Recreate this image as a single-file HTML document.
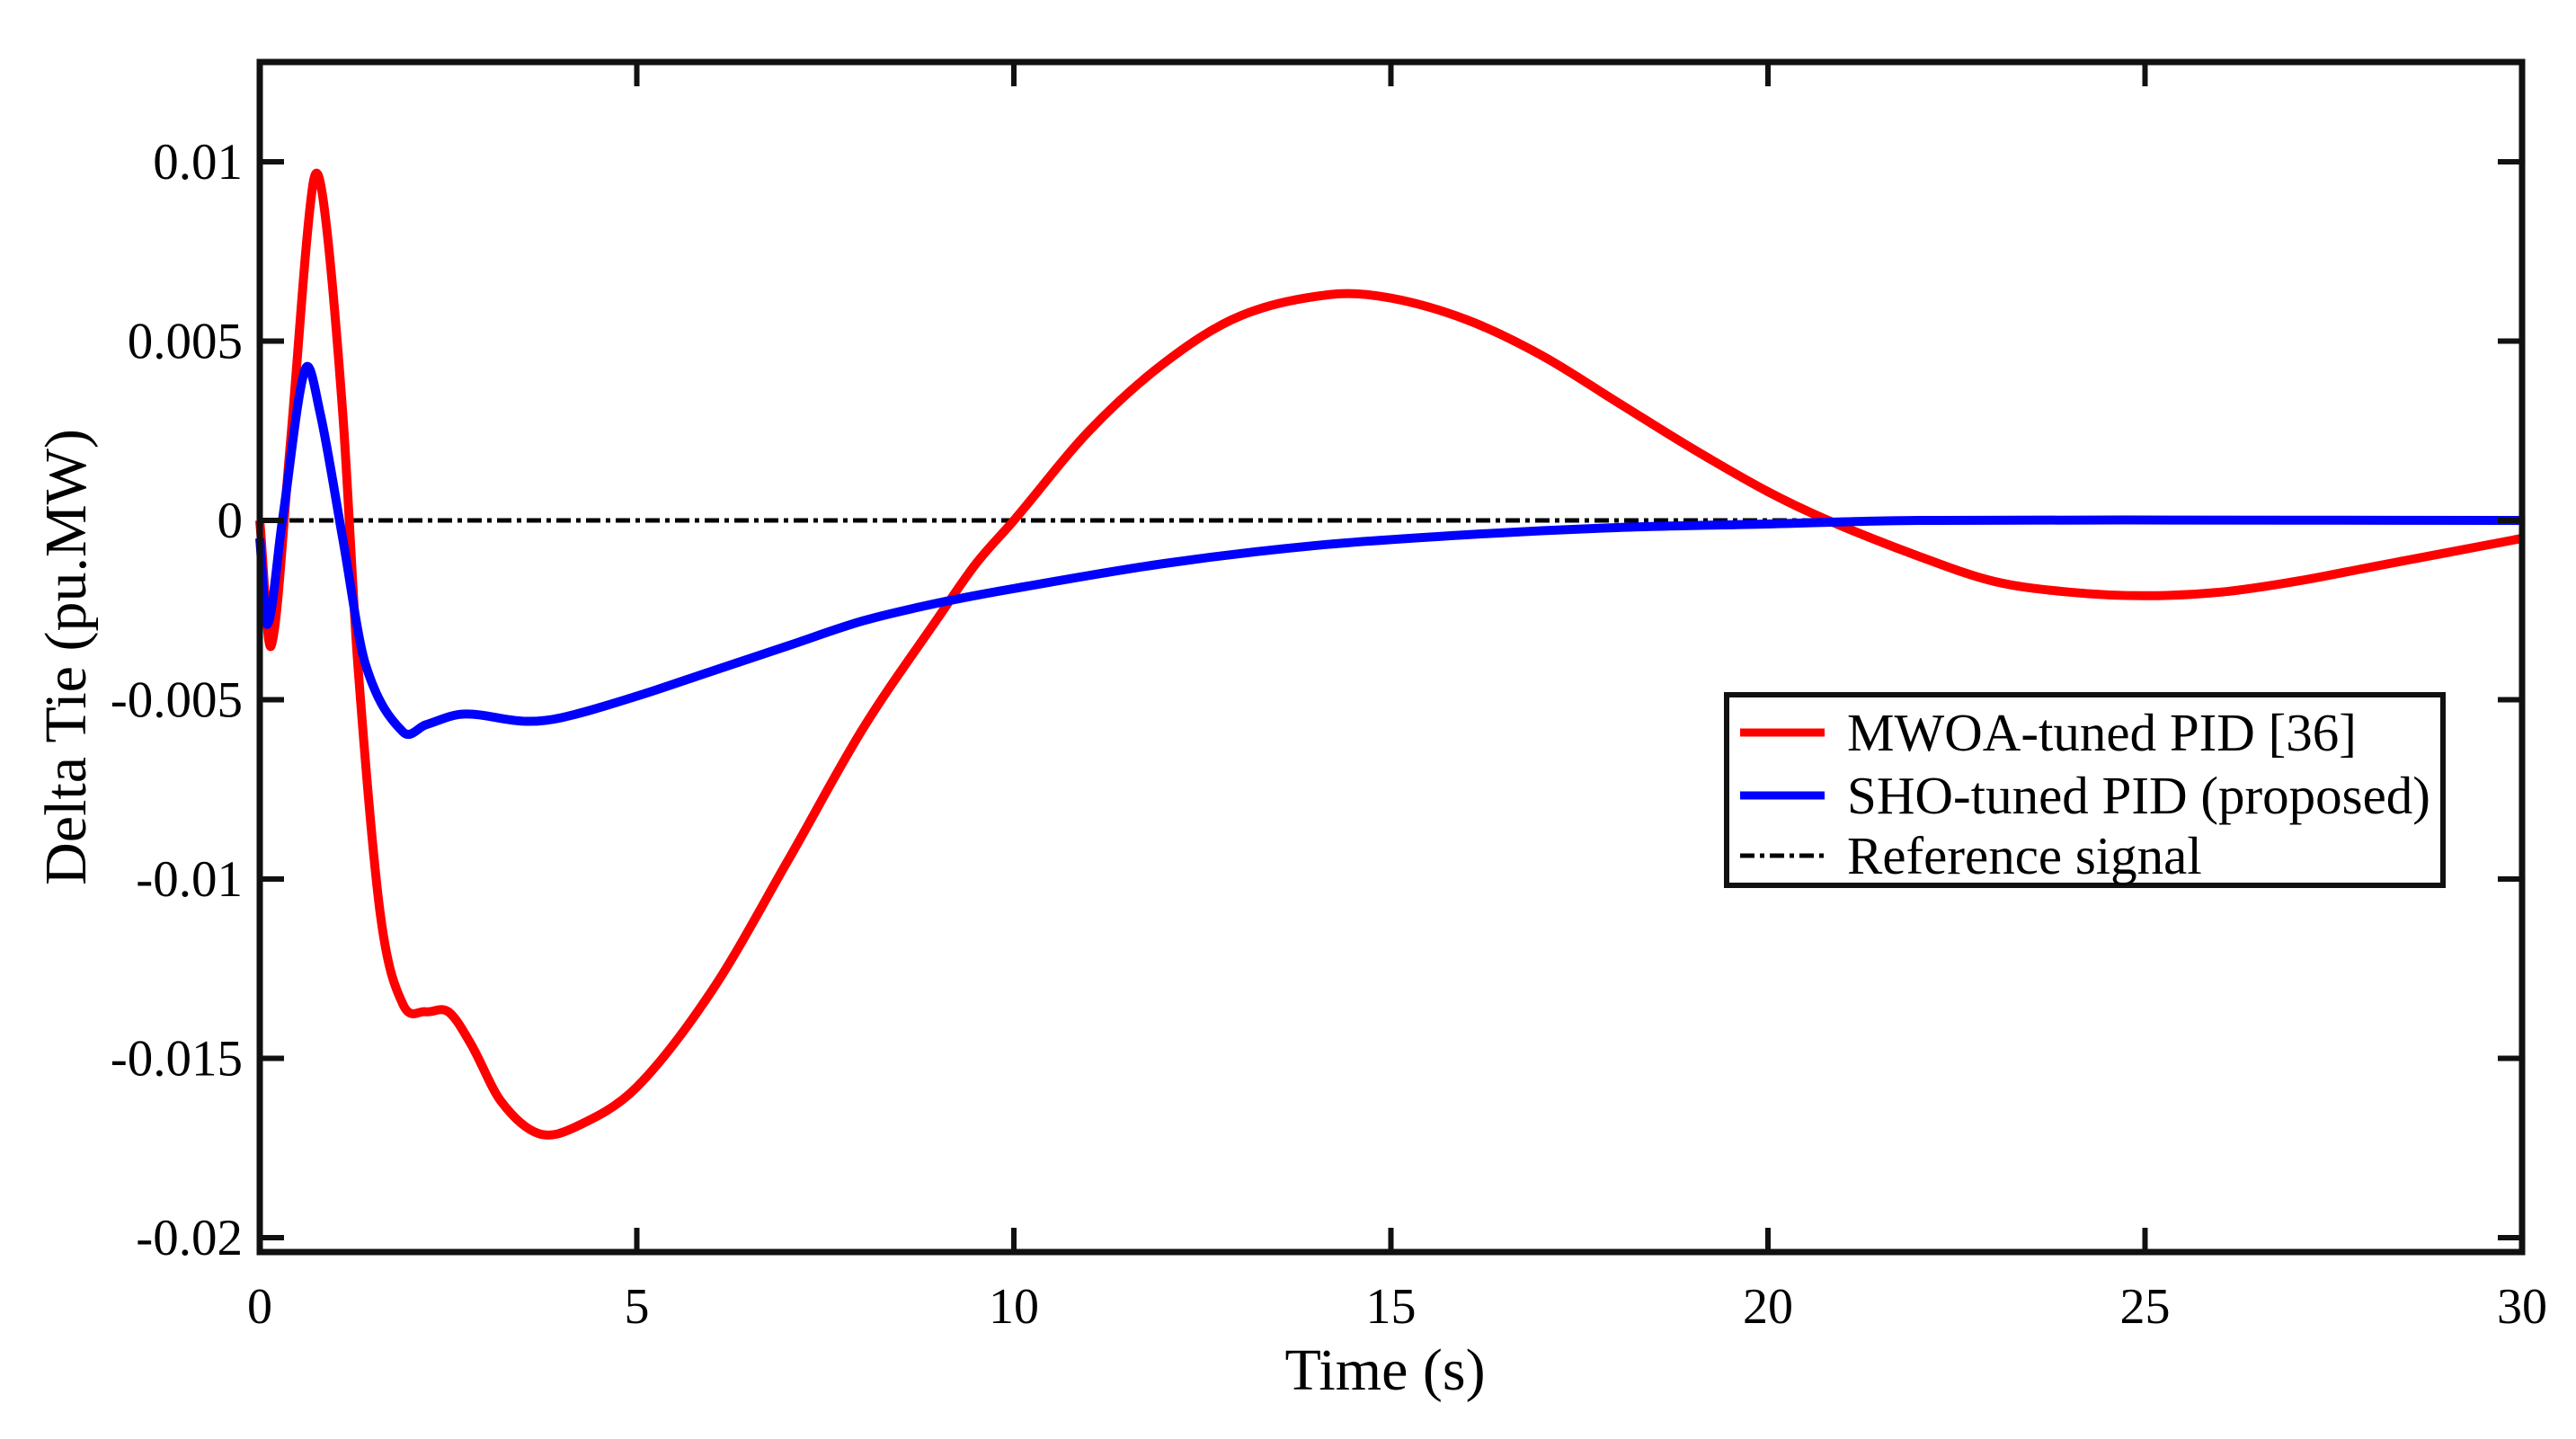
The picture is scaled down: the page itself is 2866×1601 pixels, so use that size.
<!DOCTYPE html>
<html><head><meta charset="utf-8"><style>
html,body{margin:0;padding:0;background:#fff;}
svg{display:block;font-family:"Liberation Serif",serif;}
</style></head><body>
<svg id="chart" width="2866" height="1601" viewBox="0 0 2866 1601">
<g id="plot"></g>
<g id="axes"></g>
</svg>
<script>
const xTicks=[0,5,10,15,20,25,30];
const yTicks=[0.01,0.005,0,-0.005,-0.01,-0.015,-0.02];
const yTickLabels=["0.01","0.005","0","-0.005","-0.01","-0.015","-0.02"];
const tRed=[0,0.15,0.4,0.7,0.85,1.1,1.3,1.6,1.9,2.2,2.5,2.8,3.2,3.7,4.2,5,6,7,8,9,9.5,10,11,12,13,14.2,15,16,17,18,19,20,20.8,22,23,24,25,26,27,28,29,30];
const vRed=[0,-0.0035,0.002,0.0093,0.0088,0.003,-0.004,-0.011,-0.0135,-0.0137,-0.0137,-0.0146,-0.0162,-0.0171,-0.0169,-0.0158,-0.0131,-0.0095,-0.0058,-0.0027,-0.0012,0,0.0025,0.0044,0.0057,0.0063,0.0062,0.0056,0.0046,0.0033,0.002,0.0008,0,-0.001,-0.0017,-0.002,-0.0021,-0.002,-0.0017,-0.0013,-0.0009,-0.0005];
const tBlue=[0,0.1,0.3,0.6,0.8,1.1,1.4,1.9,2.2,2.7,3.5,4,5,6,7,8,9,10,12,14,16,18,20,22,30];
const vBlue=[-0.0005,-0.0029,0,0.0042,0.003,-0.0005,-0.004,-0.0059,-0.0057,-0.0054,-0.0056,-0.0055,-0.0049,-0.0042,-0.0035,-0.0028,-0.0023,-0.0019,-0.0012,-0.0007,-0.0004,-0.0002,-0.0001,0,0];

const L=289,R=2806,T=69,B=1393;
const X=t=>L+(t-0)/(30-0)*(R-L);
const Y=v=>579-v*39900;
const NS="http://www.w3.org/2000/svg";
const plot=document.getElementById('plot'),axes=document.getElementById('axes');
function mk(tag,attrs,parent){const e=document.createElementNS(NS,tag);for(const k in attrs)e.setAttribute(k,attrs[k]);parent.appendChild(e);return e;}
function smooth(ts,vs){
  const n=ts.length,m=[];
  for(let i=0;i<n;i++){
    const a=Math.max(0,i-1),b=Math.min(n-1,i+1);
    m.push((vs[b]-vs[a])/(ts[b]-ts[a]));
  }
  let d=`M${X(ts[0])},${Y(vs[0])}`;
  for(let i=0;i<n-1;i++){
    const h=ts[i+1]-ts[i];
    d+=` C${X(ts[i]+h/3)},${Y(vs[i]+m[i]*h/3)} ${X(ts[i+1]-h/3)},${Y(vs[i+1]-m[i+1]*h/3)} ${X(ts[i+1])},${Y(vs[i+1])}`;
  }
  return d;
}
const ref=mk('line',{x1:X(0),x2:X(30),y1:Y(0),y2:Y(0),stroke:'#000','stroke-width':5,'stroke-dasharray':'16,6,5,6'},plot);


const red=mk('path',{d:smooth(tRed,vRed),fill:'none',stroke:'#ff0000','stroke-width':10,'stroke-linejoin':'round'},plot);


const blue=mk('path',{d:smooth(tBlue,vBlue),fill:'none',stroke:'#0000ff','stroke-width':10,'stroke-linejoin':'round'},plot);


const fr=mk('rect',{x:L,y:T,width:R-L,height:B-T,fill:'none',stroke:'#111','stroke-width':7},axes);


xTicks.forEach(t=>{
  const x=X(t);
  mk('line',{x1:x,x2:x,y1:B,y2:B-27,stroke:'#111','stroke-width':6},axes);
  mk('line',{x1:x,x2:x,y1:T,y2:T+27,stroke:'#111','stroke-width':6},axes);
  const tx=mk('text',{x:x,y:1472,'font-size':56,'text-anchor':'middle'},axes);
  tx.textContent=t;
  
  
});
yTicks.forEach((v,i)=>{
  const y=Y(v);
  mk('line',{x1:L,x2:L+27,y1:y,y2:y,stroke:'#111','stroke-width':6},axes);
  mk('line',{x1:R,x2:R-27,y1:y,y2:y,stroke:'#111','stroke-width':6},axes);
  const tx=mk('text',{x:270,y:y+19,'font-size':57,'text-anchor':'end'},axes);
  tx.textContent=yTickLabels[i];
  
  
});
const xt=mk('text',{x:1541,y:1546,'font-size':66,'text-anchor':'middle'},axes);
xt.textContent='Time (s)';


const yt=mk('text',{x:0,y:0,'font-size':66,'text-anchor':'middle',transform:'translate(95,731) rotate(-90)'},axes);
yt.textContent='Delta Tie (pu.MW)';


const lg=mk('g',{},axes);


mk('rect',{x:1921,y:773,width:797,height:212,fill:'#fff',stroke:'#111','stroke-width':6},lg);
const entries=[['MWOA-tuned PID [36]','#ff0000',9,null],['SHO-tuned PID (proposed)','#0000ff',9,null],['Reference signal','#000',5,'16,6,5,6']];
const rows=[815,885,952];
entries.forEach((e,i)=>{
  const a={x1:1936,x2:2030,y1:rows[i],y2:rows[i],stroke:e[1],'stroke-width':e[2]};
  if(e[3])a['stroke-dasharray']=e[3];
  mk('line',a,lg);
  const tx=mk('text',{x:2055,y:rows[i]+20,'font-size':59},lg);
  tx.textContent=e[0];
  
  
});
</script>
</body></html>
